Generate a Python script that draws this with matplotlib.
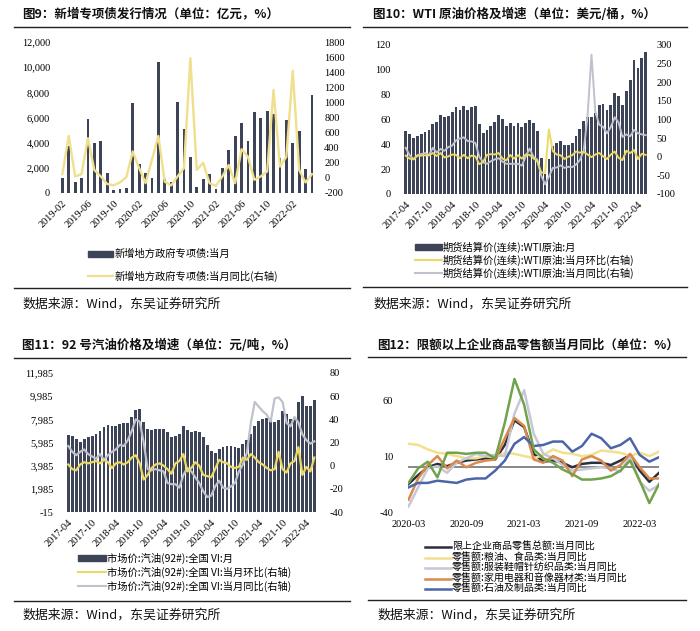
import numpy as np
import matplotlib
matplotlib.use('Agg')
import matplotlib.pyplot as plt
from matplotlib.lines import Line2D
from matplotlib.patches import Rectangle

plt.rcParams['font.family'] = ['Noto Sans CJK SC', 'DejaVu Sans']
SERIF = 'Liberation Serif'

# ---------------- data ----------------
# Fig 9: new special bonds (monthly, 2019-02 .. 2022-05)
bond_ticks = ['2019-02', '2019-06', '2019-10', '2020-02', '2020-06', '2020-10',
              '2021-02', '2021-06', '2021-10', '2022-02']
bond_issue = [1200, 3700, 900, 1200, 5900, 4000, 4100, 1600, 250, 300,
              400, 7150, 2300, 1600, 1200, 10400, 1100, 900, 7250, 5100,
              2900, 500, 1100, 1500, 300, 2000, 3400, 4500, 5600, 4100,
              6400, 6000, 6500, 6300, 2800, 5800, 4000, 4900, 1900, 7800]
bond_yoy = [50, 556, 20, 50, 525, 105, 20, -80, -100, -60,
            10, 350, 130, -70, 240, 556, -50, -100, 20, 130,
            1585, 105, 200, -70, -105, 20, 170, -70, 380, 280,
            -25, 20, 85, 1165, 150, 280, 1420, 105, -60, 50]

# Fig 10: WTI (monthly, 2017-04 .. 2022-06)
wti_ticks = ['2017-04', '2017-10', '2018-04', '2018-10', '2019-04', '2019-10',
             '2020-04', '2020-10', '2021-04', '2021-10', '2022-04']
wti_price = [51.1, 48.5, 45.2, 46.6, 48.0, 49.8, 51.6, 56.6, 57.9,
             63.7, 62.2, 62.7, 66.3, 69.9, 67.3, 71.0, 68.0, 70.1, 70.8, 56.7, 49.0,
             51.4, 54.9, 58.2, 63.9, 60.8, 54.7, 57.4, 54.8, 56.9, 54.0, 57.0, 59.8,
             57.5, 50.5, 29.2, 16.5, 28.5, 38.3, 40.7, 42.3, 39.6, 39.5, 41.1, 47.0,
             52.1, 59.0, 62.3, 61.7, 65.2, 71.4, 72.4, 67.7, 71.6, 81.5, 79.0, 71.7,
             83.2, 91.6, 108.3, 101.6, 109.3, 114.6]
wti_mom = [3, -5, -7, 3, 3, 4, 4, 10, 2,
           10, -2, 1, 6, 5, -4, 5, -4, 3, 1, -20, -14,
           5, 7, 6, 10, -5, -10, 5, -5, 4, -5, 6, 5,
           -4, -12, -42, -43, 73, 15, 6, 4, -6, 0, 4, 14,
           11, 13, 6, -1, 6, 10, 1, -6, 6, 14, -3, -9,
           16, 10, 18, -6, 8, 5]
wti_yoy = [24, 4, -7, 4, 7, 10, 4, 24, 11,
           21, 16, 26, 30, 44, 49, 52, 42, 41, 37, 0, -15,
           -19, -12, -7, -4, -13, -19, -19, -19, -19, -24, 1, 22,
           0, -8, -50, -74, -53, -30, -29, -23, -30, -27, -28, -21,
           -9, 17, 113, 274, 120, 86, 80, 63, 80, 106, 92, 53,
           60, 55, 72, 63, 60, 58]

# Fig 11: 92# gasoline (monthly, 2017-04 .. 2022-06)
gas_ticks = wti_ticks
gas_price = [6620, 6570, 6340, 6050, 6280, 6450, 6540, 6770, 6970, 7340,
             7540, 7430, 7400, 7630, 7720, 7720, 8200, 8780, 8920, 7770,
             7140, 7110, 7200, 7140, 7140, 6910, 6480, 6540, 6770, 7400,
             7050, 6910, 6970, 6910, 6480, 5760, 5240, 5130, 5420, 5620,
             5710, 5680, 5590, 5530, 5910, 6190, 6770, 7430, 7830, 8060,
             8120, 8000, 7770, 7920, 8690, 8490, 8060, 8200, 9500, 10020,
             9150, 9120, 9700]
gas_mom = [1, -3, -4, 1, 3, 2, 3, 4, 2, 5,
           3, -2, 2, 3, 1, 3, 7, 9, 2, -12,
           -8, -2, 1, 2, 0, -3, -7, 2, 4, 10,
           -5, -2, 3, 0, -8, -9, -10, -3, 5, 3,
           2, -1, -2, -1, 7, 5, 10, 7, 3, 1,
           -2, -4, -3, 12, -3, -6, 2, 4, 16, -8,
           -1, -5, 7]
gas_yoy = [17, 12, 9, 12, 14, 10, 8, 6, 10, 5,
           9, 12, 14, 18, 17, 22, 30, 40, 38, 20,
           -3, -4, -3, -4, -5, -15, -16, -16, -19, -8,
           -2, -5, -10, -15, -22, -27, -26, -18, -13, -19,
           -20, -18, -15, -5, 1, 11, 37, 55, 51, 47,
           44, 38, 58, 59, 55, 37, 34, 42, 37, 27,
           22, 19, 21]

# Fig 12: retail sales YoY (monthly, 2020-03 .. 2022-05)
retail_ticks = ['2020-03', '2020-09', '2021-03', '2021-09', '2022-03']
retail_total = [-15, -7, 0, 3, 1, 4, 6, 7, 8, 7, 20, 42, 36, 12, 5, 6, 4, 0, 3, 4,
                4, 2, 6, 11, -3, -13, -5]
retail_grain = [21, 20, 16, 13, 12, 10, 8, 8, 10, 9, 13, 12, 10, 8, 11, 16, 13, 12, 10, 11,
                15, 14, 13, 10, 13, 10, 14]
retail_cloth = [-35, -18, -1, 1, -5, 4, 8, 12, 10, 11, 10, 48, 69, 30, 12, 8, 2, -3, -2, -1,
                0, -1, -4, 10, -13, -21, -16]
retail_appl = [-29, -10, 2, 10, -1, 6, 0, 4, 6, 7, 26, 44, 37, 7, 4, 10, 6, -8, 7, 10,
               6, -3, 2, 12, 0, -10, -10]
retail_oil = [-18, -14, -14, -12, -13, -14, -11, -10, -10, -3, 6, 21, 27, 19, 20, 23, 23, 14, 19, 30,
              26, 17, 20, 26, 11, 5, 9]
retail_jewel = [-14, -1, 5, -9, 13, 13, 12, 13, 13, 8, 40, 79, 56, 16, 8, 4, -2, -6, -11, -11,
                -10, -8, -3, 6, -12, -32, -15]

# ---------------- layout helpers ----------------
W, H = 700, 631
fig = plt.figure(figsize=(7, 6.31), dpi=100)

NAVY = '#3d4458'
YEL1 = '#f0df8c'
YEL2 = '#ecd865'
GREY = '#bfc2cc'


def rect(x0, y0, x1, y1):
    return [x0 / W, 1 - y1 / H, (x1 - x0) / W, (y1 - y0) / H]


def ftxt(x, y, s, **kw):
    kw.setdefault('va', 'center')
    fig.text(x / W, 1 - y / H, s, **kw)


def fline(x0, x1, y, lw=1.0, color='#222222'):
    fig.add_artist(Line2D([x0 / W, x1 / W], [1 - y / H, 1 - y / H], lw=lw, color=color,
                          transform=fig.transFigure))


def fpatch(x0, x1, y, h, color):
    fig.add_artist(Rectangle((x0 / W, 1 - (y + h / 2) / H), (x1 - x0) / W, h / H,
                             color=color, transform=fig.transFigure))


def clean(ax):
    for s in ax.spines.values():
        s.set_visible(False)
    ax.tick_params(length=0)


TS = 7.5
LS = 7.4


def header(x_title, y_title, title, x0, x1, y_line, y_bot, y_src):
    ftxt(x_title, y_title, title, fontsize=9, fontweight='bold', color='#111111')
    fline(x0, x1, y_line, lw=1.0)
    fline(x0, x1, y_bot, lw=1.0)
    ftxt(x_title, y_src, '数据来源：Wind，东吴证券研究所', fontsize=9.3, color='#111111')


# ---------------- Fig 9 ----------------
header(22, 14, '图9：新增专项债发行情况（单位：亿元，%）', 14, 350, 26.5, 288, 304)
ax1 = fig.add_axes(rect(58.5, 42, 315.8, 193))
x1 = np.arange(len(bond_issue))
ax1.bar(x1, bond_issue, width=0.45, color=NAVY)
ax1.set_xlim(-0.6, len(bond_issue) - 0.4)
ax1.set_ylim(0, 12000)
yt = np.arange(0, 12001, 2000)
ax1.set_yticks(yt, [f'{v:,}' for v in yt], fontfamily=SERIF, fontsize=TS)
ax1.set_xticks(np.arange(len(bond_ticks)) * 4, bond_ticks, rotation=45, ha='right',
               rotation_mode='anchor', fontfamily=SERIF, fontsize=TS)
ax1.tick_params(axis='y', pad=6)
ax1.tick_params(axis='x', pad=4)
clean(ax1)
ax1b = ax1.twinx()
ax1b.plot(x1, bond_yoy, color=YEL1, lw=1.7)
ax1b.set_ylim(-200, 1800)
yt = np.arange(-200, 1801, 200)
ax1b.set_yticks(yt, [str(v) for v in yt], fontfamily=SERIF, fontsize=TS)
ax1b.tick_params(axis='y', pad=6)
clean(ax1b)
fpatch(88, 113, 254, 6, NAVY)
ftxt(115, 254, '新增地方政府专项债:当月', fontsize=LS)
fline(88, 113, 276, lw=1.6, color=YEL1)
ftxt(115, 276, '新增地方政府专项债:当月同比(右轴)', fontsize=LS)

# ---------------- Fig 10 ----------------
header(373, 14, '图10：WTI 原油价格及增速（单位：美元/桶，%）', 363, 687, 26.5, 287, 304)
ax2 = fig.add_axes(rect(403.4, 45, 648, 194))
x2 = np.arange(len(wti_price))
ax2.bar(x2, wti_price, width=0.72, color=NAVY)
ax2.set_xlim(-0.6, len(wti_price) - 0.4)
ax2.set_ylim(0, 120)
yt = np.arange(0, 121, 20)
ax2.set_yticks(yt, [str(v) for v in yt], fontfamily=SERIF, fontsize=TS)
ax2.set_xticks(np.arange(len(wti_ticks)) * 6, wti_ticks, rotation=45, ha='right',
               rotation_mode='anchor', fontfamily=SERIF, fontsize=TS)
ax2.tick_params(axis='y', pad=9)
ax2.tick_params(axis='x', pad=4)
clean(ax2)
ax2b = ax2.twinx()
ax2b.plot(x2, wti_yoy, color=GREY, lw=1.4)
ax2b.plot(x2, wti_mom, color=YEL2, lw=1.4)
ax2b.set_ylim(-100, 300)
yt = np.arange(-100, 301, 50)
ax2b.set_yticks(yt, [str(v) for v in yt], fontfamily=SERIF, fontsize=TS)
ax2b.tick_params(axis='y', pad=6)
clean(ax2b)
fpatch(415, 442, 247, 6, NAVY)
ftxt(443, 247, '期货结算价(连续):WTI原油:月', fontsize=LS)
fline(415, 442, 260, lw=1.5, color=YEL2)
ftxt(443, 260, '期货结算价(连续):WTI原油:当月环比(右轴)', fontsize=LS)
fline(415, 442, 273, lw=1.5, color=GREY)
ftxt(443, 273, '期货结算价(连续):WTI原油:当月同比(右轴)', fontsize=LS)

# ---------------- Fig 11 ----------------
header(22, 345, '图11：92 号汽油价格及增速（单位：元/吨，%）', 14, 350, 358, 601, 615)
ax3 = fig.add_axes(rect(65.9, 373, 316.7, 512))
x3 = np.arange(len(gas_price))
ax3.bar(x3, gas_price, width=0.72, color=NAVY, bottom=-15)
ax3.set_xlim(-0.6, len(gas_price) - 0.4)
ax3.set_ylim(-15, 11985)
yt = np.arange(-15, 11986, 2000)
ax3.set_yticks(yt, [f'{v:,}' for v in yt], fontfamily=SERIF, fontsize=TS)
ax3.set_xticks(np.arange(len(gas_ticks)) * 6, gas_ticks, rotation=45, ha='right',
               rotation_mode='anchor', fontfamily=SERIF, fontsize=TS)
ax3.tick_params(axis='y', pad=9)
ax3.tick_params(axis='x', pad=4)
clean(ax3)
ax3b = ax3.twinx()
ax3b.plot(x3, gas_yoy, color=GREY, lw=1.6)
ax3b.plot(x3, gas_mom, color=YEL2, lw=1.6)
ax3b.set_ylim(-40, 80)
yt = np.arange(-40, 81, 20)
ax3b.set_yticks(yt, [str(v) for v in yt], fontfamily=SERIF, fontsize=TS)
ax3b.tick_params(axis='y', pad=9)
clean(ax3b)
fpatch(78, 106, 558, 6, NAVY)
ftxt(107, 558, '市场价:汽油(92#):全国 VI:月', fontsize=LS)
fline(78, 106, 572, lw=1.5, color=YEL2)
ftxt(107, 572, '市场价:汽油(92#):全国 VI:当月环比(右轴)', fontsize=LS)
fline(78, 106, 586, lw=1.5, color=GREY)
ftxt(107, 586, '市场价:汽油(92#):全国 VI:当月同比(右轴)', fontsize=LS)

# ---------------- Fig 12 ----------------
header(377, 345, '图12：限额以上企业商品零售额当月同比（单位：%）', 368, 686, 357, 600, 615)
ax4 = fig.add_axes(rect(408.5, 370, 659, 512))
x4 = np.arange(len(retail_total))
ax4.axhline(0, color='#7f7f7f', lw=1.3, zorder=1)
C_DARK, C_YEL, C_GRY, C_ORG, C_BLU, C_GRN = '#2b2f3e', '#f3e08e', '#c6c7d8', '#d98a4c', '#4b66a8', '#70a34c'
ax4.plot(x4, retail_total, color=C_DARK, lw=1.8, zorder=2)
ax4.plot(x4, retail_grain, color=C_YEL, lw=1.8, zorder=2)
ax4.plot(x4, retail_cloth, color=C_GRY, lw=1.8, zorder=2)
ax4.plot(x4, retail_appl, color=C_ORG, lw=1.8, zorder=3)
ax4.plot(x4, retail_oil, color=C_BLU, lw=1.8, zorder=3)
ax4.plot(x4, retail_jewel, color=C_GRN, lw=1.8, zorder=4)
ax4.set_xlim(0, len(retail_total) - 1)
ax4.set_ylim(-40, 87)
ax4.set_yticks([-40, 10, 60], ['-40', '10', '60'], fontfamily=SERIF, fontsize=TS)
ax4.set_xticks(np.arange(len(retail_ticks)) * 6, retail_ticks, fontfamily=SERIF, fontsize=TS)
ax4.tick_params(axis='y', pad=11)
ax4.tick_params(axis='x', pad=6)
clean(ax4)
leg4 = [('限上企业商品零售总额:当月同比', C_DARK),
        ('零售额:粮油、食品类:当月同比', C_YEL),
        ('零售额:服装鞋帽针纺织品类:当月同比', C_GRY),
        ('零售额:家用电器和音像器材类:当月同比', C_ORG),
        ('零售额:石油及制品类:当月同比', C_BLU)]
for k, (lab, c) in enumerate(leg4):
    yy = 547 + k * 10.5
    fline(425, 451, yy, lw=1.8, color=c)
    ftxt(452, yy, lab, fontsize=7.2)

fig.savefig('out.png', dpi=100)
